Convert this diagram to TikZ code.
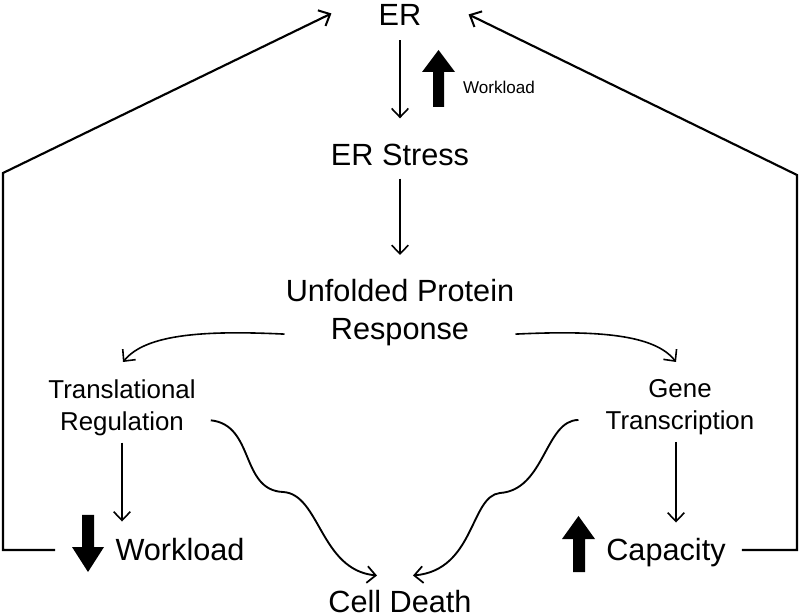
\documentclass[tikz,border=0pt]{standalone}
\usepackage{fontspec}
\setmainfont{Liberation Sans}
\usetikzlibrary{arrows.meta,calc}
\begin{document}
\begin{tikzpicture}[x=0.75pt,y=0.75pt,
  big/.style={inner sep=0pt,font=\fontsize{23}{28.5}\selectfont,align=center},
  mid/.style={inner sep=0pt,font=\fontsize{19.4}{24}\selectfont,align=center},
  small/.style={inner sep=0pt,font=\fontsize{12.8}{15}\selectfont},
  arr/.style={line width=1.2pt,-{Straight Barb[length=6.5pt,width=12.5pt,line width=1.2pt]}},
  wavy/.style={line width=1.4pt,-{Straight Barb[length=6.5pt,width=12.5pt,line width=1.3pt]}},
  fb/.style={line width=1.6pt,-{Straight Barb[length=7pt,width=13pt,line width=1.5pt]}},
  blk/.style={fill=black}]
\useasboundingbox (0,0) rectangle (800,-616);

% nodes
\node[big,anchor=base] (er) at (400,-26) {ER};
\node[big,anchor=base] (ers) at (400,-166) {ER Stress};
\node[big,anchor=north] (upr) at (400,-279) {Unfolded Protein\\Response};
\node[mid,anchor=north] (trans) at (122,-379) {Translational\\Regulation};
\node[mid,anchor=north] (gene) at (680,-379) {Gene\\Transcription};
\node[big,anchor=base] (wl) at (180,-561) {Workload};
\node[big,anchor=base] (cap) at (666,-561) {Capacity};
\node[big,anchor=base] (cd) at (400,-612) {Cell Death};
\node[small] (wls) at (499,-87) {Workload};

% block arrows
\fill[blk] (438.5,-50) -- (455,-72) -- (444,-72) -- (444,-107) -- (433,-107) -- (433,-72) -- (422,-72) -- cycle;
\fill[blk] (88,-572) -- (104,-547) -- (94,-547) -- (94,-515) -- (82,-515) -- (82,-547) -- (72,-547) -- cycle;
\fill[blk] (578.5,-516) -- (595,-539) -- (585,-539) -- (585,-572) -- (573,-572) -- (573,-539) -- (562,-539) -- cycle;

% straight connectors
\coordinate (gs) at ($(gene.south)+(-4,0)$);
\draw[arr,shorten <=10.5pt,shorten >=19.5pt] (er.south) -- (ers.north);
\draw[arr,shorten <=9pt,shorten >=18pt] (ers.south) -- (upr.north);
\draw[arr,shorten <=5.25pt,shorten >=12.75pt] (trans.south) -- (trans.south |- wl.north);
\draw[arr,shorten <=5.25pt,shorten >=12pt] (gs) -- (gs |- cap.north);

% curved connectors from UPR
\draw[arr] ($(upr.south west)+(-1,12)$) .. controls (200,-330) and (145,-335) .. ($(trans.north)+(1,17)$);
\draw[arr] ($(upr.south east)+(1,12)$) .. controls (600,-330) and (655,-335) .. ($(gene.north)+(-4,17)$);

% wavy connectors to cell death
\draw[wavy] ($(trans.east)+(15,-13)$) .. controls (255,-425) and (240,-490) .. (283,-492)
   .. controls (320,-494) and (320,-570) .. ($(cd.north)+(-23,14)$);
\draw[wavy] ($(gene.west)+(-27,-13)$) .. controls (545,-420) and (545,-490) .. (500,-493)
   .. controls (470,-496) and (475,-570) .. ($(cd.north)+(13,14)$);

% feedback loops
\coordinate (l1) at (3,-550);
\coordinate (l2) at (3,-173);
\coordinate (r1) at (797,-550);
\coordinate (r2) at (797,-175);
\draw[fb] ($(wl.west)+(-60,0)$) -- (l1) -- (l2) -- ($(er.west)+(-47,2)$);
\draw[fb] ($(cap.base east)+(16,11)$) -- (r1) -- (r2) -- ($(er.east)+(47,1)$);
\end{tikzpicture}
\end{document}
